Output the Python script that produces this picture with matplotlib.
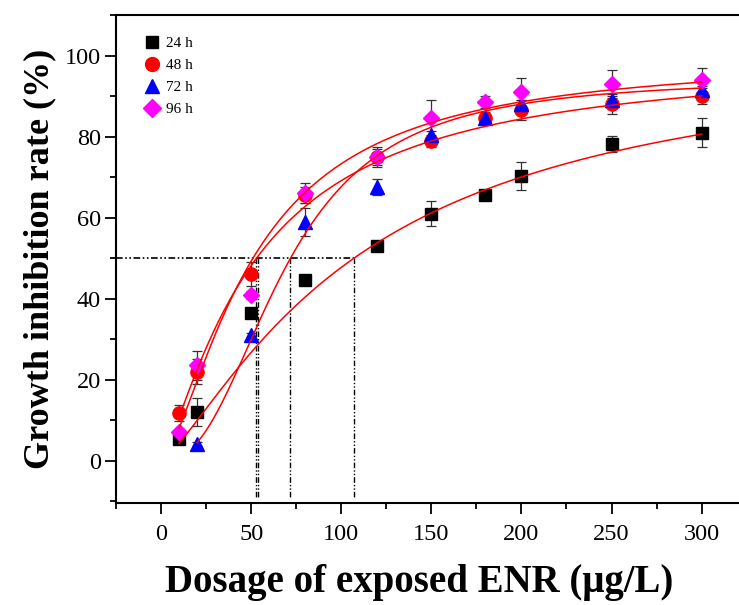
import numpy as np
import matplotlib
matplotlib.use("Agg")
import matplotlib.pyplot as plt

plt.rcParams['font.family'] = ['Liberation Serif', 'DejaVu Serif']

# measured points (dose in ug/L, inhibition in %)
dose = [10, 20, 50, 80, 120, 150, 180, 200, 250, 300]

y24 = [5.3, 12.0, 36.5, 44.5, 53.0, 61.0, 65.5, 70.2, 78.2, 81.0]
e24 = [1.0, 3.5, 0.0, 0.0, 0.0, 3.0, 0.0, 3.5, 2.0, 3.5]

y48 = [11.8, 22.0, 46.0, 65.5, 75.0, 79.0, 84.5, 86.5, 88.0, 90.0]
e48 = [2.0, 3.0, 3.0, 2.0, 2.0, 1.5, 1.5, 2.5, 2.5, 2.0]

dose72 = [20, 50, 80, 120, 150, 180, 200, 250, 300]
y72 = [4.0, 31.0, 59.0, 67.5, 80.5, 84.5, 88.0, 89.0, 91.5]
e72 = [0.5, 0.5, 3.5, 2.0, 1.0, 1.0, 1.0, 1.0, 1.0]

y96 = [7.0, 23.5, 41.0, 66.0, 75.0, 84.5, 88.5, 91.0, 93.0, 94.0]
e96 = [0.5, 3.5, 1.0, 2.5, 2.5, 4.5, 1.5, 3.5, 3.5, 3.0]

# dose-response fit parameters: bottom, top, EC50, slope
fit_bottom = [0, 0, 0, 0]
fit_top = [103, 100, 94.5, 100]
fit_ec50 = [112, 53, 68.5, 51]
fit_slope = [1.3, 1.27, 2.44, 1.5]
fit_start = [10, 10, 20, 10]

# EC50 guide lines
ec50_marks = [52.5, 54.0, 71.5, 107.0]

labels = ['24 h', '48 h', '72 h', '96 h']
colors = ['black', 'red', 'blue', 'magenta']
markers = ['s', 'o', '^', 'D']
msizes = [8.5, 9.5, 10, 8.5]

fig = plt.figure(figsize=(7.39, 6.05), dpi=100)
ax = fig.add_axes([0.157, 0.169, 0.8534, 0.806])

# dash-dot-dot EC50 guides
ddd = (0, (4, 1.5, 1, 1.5, 1, 1.5))
ax.plot([-25, 107], [50, 50], color='black', lw=1.2, ls=ddd, zorder=1)
for xm in ec50_marks:
    ax.plot([xm, xm], [50, -9.3], color='black', lw=1.0, ls=ddd, zorder=1)

xs_list = [dose, dose, dose72, dose]
ys_list = [y24, y48, y72, y96]
es_list = [e24, e48, e72, e96]

for i in range(4):
    ax.errorbar(xs_list[i], ys_list[i], yerr=es_list[i], fmt='none', ecolor='#333333',
                elinewidth=0.9, capsize=3.5, capthick=0.9, zorder=3)
    ax.plot(xs_list[i], ys_list[i], ls='none', marker=markers[i], color=colors[i],
            markersize=msizes[i], label=labels[i], zorder=4)

for i in range(4):
    xx = np.linspace(fit_start[i], 300, 300)
    yy = fit_bottom[i] + (fit_top[i] - fit_bottom[i]) / (1 + (fit_ec50[i] / xx) ** fit_slope[i])
    ax.plot(xx, yy, color='red', lw=1.1, zorder=5)

ax.set_xlim(-25, 325)
ax.set_ylim(-10.4, 110)
ax.set_xticks([0, 50, 100, 150, 200, 250, 300])
ax.set_xticks(np.arange(-25, 326, 25), minor=True)
ax.set_yticks([0, 20, 40, 60, 80, 100])
ax.set_yticks(np.arange(-10, 111, 10), minor=True)

ax.spines['right'].set_visible(False)
for s in ['left', 'bottom', 'top']:
    ax.spines[s].set_linewidth(1.5)

ax.tick_params(which='major', direction='out', length=8, width=1.3, labelsize=17.5)
ax.tick_params(which='minor', direction='out', length=4, width=1.3)
ax.tick_params(axis='x', which='both', top=False, pad=7)
ax.tick_params(axis='y', which='major', pad=3)

ax.set_xlabel('Dosage of exposed ENR (\u03bcg/L)', fontsize=28, fontweight='bold')
ax.xaxis.set_label_coords(0.48, -0.125)
ax.set_ylabel('Growth inhibition rate (%)', fontsize=26, fontweight='bold', labelpad=6)

ax.legend(loc='upper left', bbox_to_anchor=(0.02, 0.985), frameon=False, fontsize=11,
          handletextpad=0.35, labelspacing=0.55, handlelength=1.2, markerscale=1.05)

fig.savefig('out.png', dpi=100)
